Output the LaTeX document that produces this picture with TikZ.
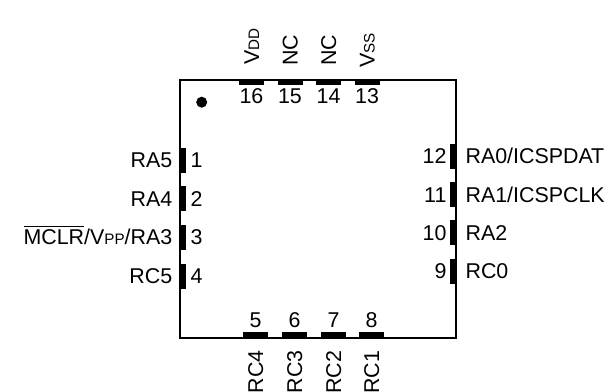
\documentclass[tikz,border=0pt]{standalone}
\usepackage{fontspec}
\setmainfont{Liberation Sans}
\usetikzlibrary{positioning}
\newcommand{\lowsub}[1]{{\fontsize{7.6}{8}\selectfont #1}}
\tikzset{
    chip/.style={rectangle, draw, line width=0.75pt, inner sep=0pt},
    pinh/.style={rectangle, fill=black, minimum width=12.5pt, minimum height=2.75pt, inner sep=0pt},
    pinv/.style={rectangle, fill=black, minimum width=2.75pt, minimum height=12.5pt, inner sep=0pt},
    num/.style={inner sep=0pt, text height=7.6pt, text depth=0pt},
    sig/.style={inner sep=0pt, text height=7.6pt, text depth=0pt},
    topsig/.style={sig, rotate=90},
    botsig/.style={sig, rotate=90}
}

\begin{document}
\begin{tikzpicture}[x=0.5pt, y=-0.5pt, font=\fontsize{10.7}{12}\selectfont]
    \useasboundingbox (0,0) rectangle (610,391);
    \node [chip, minimum width=138pt, minimum height=129pt] (ic) at (318,209) {};
    \node [circle, fill=black, minimum size=5.5pt, inner sep=0pt] (dot) at (201.7,102.2) {};

    % top pins
    \node [pinh] (p16) at (251.5,82.5) {};
    \node [pinh] (p15) at (290,82.5) {};
    \node [pinh] (p14) at (328.5,82.5) {};
    \node [pinh] (p13) at (367,82.5) {};
    \node [num, below=1.2pt of p16] (n16) {16};
    \node [num, below=1.2pt of p15] (n15) {15};
    \node [num, below=1.2pt of p14] (n14) {14};
    \node [num, below=1.2pt of p13] (n13) {13};
    \node [topsig, above=6.5pt of p16, anchor=west, xshift=0.5pt] (s16) {V\lowsub{DD}};
    \node [topsig, above=6.5pt of p15, anchor=west] (s15) {NC};
    \node [topsig, above=6.5pt of p14, anchor=west] (s14) {NC};
    \node [topsig, above=6.5pt of p13, anchor=west, xshift=-0.8pt] (s13) {V\lowsub{SS}};

    % left pins
    \node [pinv] (p1) at (183,160) {};
    \node [pinv] (p2) at (183,198.5) {};
    \node [pinv] (p3) at (183,237) {};
    \node [pinv] (p4) at (183,276) {};
    \node [num, right=2pt of p1] (n1) {1};
    \node [num, right=2pt of p2] (n2) {2};
    \node [num, right=2pt of p3] (n3) {3};
    \node [num, right=2pt of p4] (n4) {4};
    \node [sig, left=3.6pt of p1] (s1) {RA5};
    \node [sig, left=3.6pt of p2] (s2) {RA4};
    \node [sig, left=3.6pt of p3] (s3) {$\overline{\mbox{MCLR}}$/V\lowsub{PP}/RA3};
    \node [sig, left=3.6pt of p4] (s4) {RC5};

    % right pins
    \node [pinv] (p12) at (453,156) {};
    \node [pinv] (p11) at (453,194.5) {};
    \node [pinv] (p10) at (453,232.5) {};
    \node [pinv] (p9) at (453,271) {};
    \node [num, left=1.5pt of p12] (n12) {12};
    \node [num, left=1.5pt of p11] (n11) {11};
    \node [num, left=1.5pt of p10] (n10) {10};
    \node [num, left=1.5pt of p9] (n9) {9};
    \node [sig, right=4.5pt of p12] (s12) {RA0/ICSPDAT};
    \node [sig, right=4.5pt of p11] (s11) {RA1/ICSPCLK};
    \node [sig, right=4.5pt of p10] (s10) {RA2};
    \node [sig, right=4.5pt of p9] (s9) {RC0};

    % bottom pins
    \node [pinh] (p5) at (255.5,334.5) {};
    \node [pinh] (p6) at (294.5,334.5) {};
    \node [pinh] (p7) at (333.5,334.5) {};
    \node [pinh] (p8) at (371.5,334.5) {};
    \node [num, above=1.5pt of p5] (n5) {5};
    \node [num, above=1.5pt of p6] (n6) {6};
    \node [num, above=1.5pt of p7] (n7) {7};
    \node [num, above=1.5pt of p8] (n8) {8};
    \node [botsig, below=3.8pt of p5, anchor=east, xshift=-2.4pt] (s5) {RC4};
    \node [botsig, below=3.8pt of p6, anchor=east, xshift=-2.4pt] (s6) {RC3};
    \node [botsig, below=3.8pt of p7, anchor=east, xshift=-2.6pt] (s7) {RC2};
    \node [botsig, below=3.8pt of p8, anchor=east, xshift=-2.6pt] (s8) {RC1};
\end{tikzpicture}
\end{document}
